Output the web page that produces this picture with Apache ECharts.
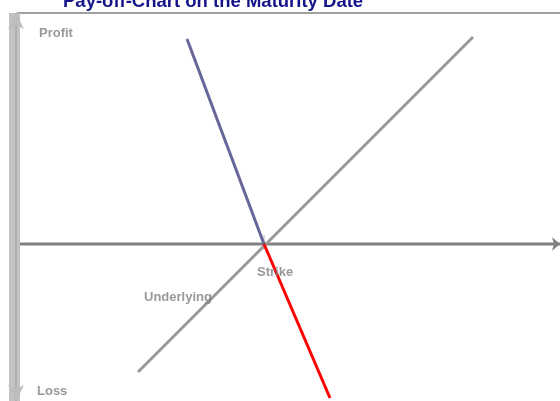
<!DOCTYPE html>
<html>
<head>
<meta charset="utf-8">
<script src="https://cdn.jsdelivr.net/npm/echarts@6/dist/echarts.min.js"></script>
<style>html,body{margin:0;padding:0;background:#fff}#c{width:560px;height:401px}</style>
</head>
<body>
<div id="c"></div>
<script>
// Data space: price (x) and payoff (y); strike at price 132, payoff 0
var titleText = 'Pay-off-Chart on the Maturity Date';
var strikePrice = 132;
var underlyingLine = [[69, -64], [236.5, 103.5]];
var putProfitLine = [[93.5, 102.5], [132, 0]];
var putLossLine = [[132, 0], [165, -77]];
var priceAxisLine = [[10, 0], [280, 0]];
var frameTopLine = [[8.5, 115.5], [280, 115.5]];
var verticalBar = [[7.25, 115.5], [7.25, -78.5]];
var verticalInner = [[8, 115.5], [8, -78.5]];
var strikeTick = [[132, 4.5], [132, -3]];
var labelNames = ['Profit', 'Loss', 'Strike', 'Underlying'];
var labelPoints = [[19.5, 105.5], [18.5, -73.5], [128.5, -14], [72, -26.5]];

var font = "'Liberation Sans', Arial, sans-serif";
function lineSeries(data, color, width, z) {
  return {
    type: 'line', data: data, symbol: 'none', silent: true, z: z || 2, clip: false,
    lineStyle: { color: color, width: width, cap: 'butt' }, animation: false
  };
}
function withArrows(series, p0, p1, symbols, size, color) {
  series.markLine = {
    silent: true, animation: false,
    symbol: symbols, symbolSize: size,
    lineStyle: { color: color, width: 0, type: 'solid' },
    label: { show: false },
    data: [[{ coord: p0 }, { coord: p1 }]]
  };
  return series;
}
var chart = echarts.init(document.getElementById('c'), null, { renderer: 'canvas' });
var barSeries = lineSeries(verticalBar, '#c2c2c2', 11, 3);
var innerSeries = withArrows(lineSeries(verticalInner, '#a9a9a9', 1.5, 4),
  verticalInner[0], verticalInner[1], ['arrow', 'arrow'], [12, 16], '#bdbdbd');
var axisSeries = withArrows(lineSeries(priceAxisLine, '#808080', 3, 1),
  priceAxisLine[0], priceAxisLine[1], ['none', 'arrow'], [10, 8], '#808080');
chart.setOption({
  backgroundColor: '#ffffff',
  animation: false,
  title: {
    text: titleText, left: 58, top: -13,
    textStyle: { color: '#14148a', fontSize: 18.5, fontWeight: 'bold', fontFamily: font }
  },
  grid: { left: 0, right: 0, top: 0, bottom: 0 },
  xAxis: { type: 'value', min: 0, max: 280, show: false, splitLine: { show: false } },
  yAxis: { type: 'value', min: -78.5, max: 122, show: false, splitLine: { show: false } },
  series: [
    axisSeries,
    lineSeries(frameTopLine, '#a0a0a0', 2, 2),
    barSeries,
    innerSeries,
    lineSeries(strikeTick, '#b4b4b4', 1, 2),
    lineSeries(underlyingLine, '#999999', 3, 2),
    lineSeries(putProfitLine, '#666699', 3, 2),
    lineSeries(putLossLine, '#ff0000', 3, 2),
    {
      type: 'scatter', symbolSize: 0, silent: true, z: 5,
      data: labelPoints.map(function (p, i) { return { name: labelNames[i], value: p }; }),
      label: {
        show: true, position: [0, 0], align: 'left', verticalAlign: 'middle',
        formatter: '{b}', color: '#7f7f7f', fontSize: 13, fontWeight: 'bold', fontFamily: font
      }
    }
  ]
});
</script>
</body>
</html>
